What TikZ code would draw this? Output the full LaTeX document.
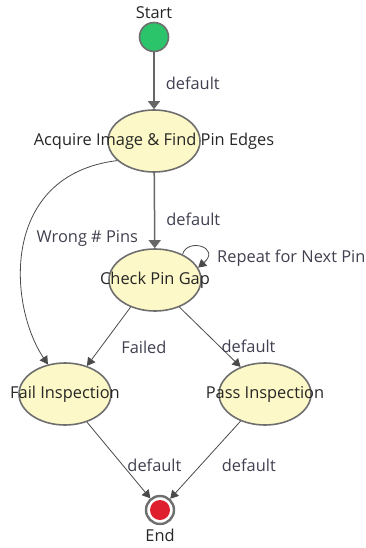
\documentclass[tikz,border=0pt]{standalone}
\usepackage{fontspec}
\setmainfont{Open Sans}
\usepackage{tikz}
\usetikzlibrary{arrows.meta,shapes.geometric}
\definecolor{sfill}{HTML}{FCF8C8}
\definecolor{sline}{HTML}{6E6E6E}
\definecolor{sgreen}{HTML}{2BC46A}
\definecolor{sred}{HTML}{DE1F2D}
\definecolor{tline}{HTML}{4A4A4A}
\definecolor{tlined}{HTML}{666666}
\definecolor{ltext}{HTML}{404050}
\newcommand{\statefont}{\fontsize{16.4}{19}\selectfont}
\tikzset{
  % yellow state bubble, text may run past the border
  state/.style      = {ellipse, draw=sline, fill=sfill, line width=1.6pt,
                       minimum width=92pt, minimum height=62pt, inner sep=0pt,
                       text=black!85, font=\statefont},
  startstate/.style = {circle, draw=sline, fill=sgreen, line width=1.6pt,
                       minimum size=29pt, inner sep=0pt},
  endstate/.style   = {circle, draw=sline, fill=white, line width=2.4pt,
                       minimum size=28pt, inner sep=0pt,
                       path picture={\fill[sred] (path picture bounding box.center) circle (10pt);}},
  trans/.style      = {-{Triangle[length=8pt,width=9pt]}, tline, line width=0.8pt},
  main trans/.style = {-{Triangle[length=8pt,width=12pt]}, tlined, line width=1.5pt},
  lbl/.style        = {font=\statefont, text=ltext, inner sep=1pt},
  title/.style      = {font=\statefont, text=black!85, inner sep=0.5pt},
}
\begin{document}
\begin{tikzpicture}[x=1pt,y=-1pt]
\useasboundingbox (0,0) rectangle (366,548);
\node[startstate, label={[title, label distance=2pt]above:Start}] (start) at (154,37) {};
\node[state] (acq) at (154,141) {\makebox[0pt]{Acquire Image \& Find Pin Edges}};
\node[state] (check) at (155,280) {\makebox[0pt]{Check Pin Gap}};
\node[state] (fail) at (65,394) {\makebox[0pt]{Fail Inspection}};
\node[state] (pass) at (265,394) {\makebox[0pt]{Pass Inspection}};
\node[endstate, label={[title, label distance=3pt]below:End}] (end) at (160,510) {};
% transitions
\draw[main trans] (start) -- node[lbl, pos=0.55, anchor=west, xshift=10pt] {default} (acq);
\draw[main trans] (acq) -- node[lbl, pos=0.62, anchor=west, xshift=10pt] {default} (check);
\draw[trans] (check.43) .. controls +(5,-17) and +(23,-20) ..
  node[lbl, anchor=west, xshift=15pt, yshift=-11pt] {Repeat for Next Pin} (check.16);
\draw[trans] (acq.-152) .. controls (0,175) and (8,305) ..
  node[lbl, pos=0.47, anchor=west, xshift=10pt] {Wrong \# Pins} (fail.120);
\draw[trans] (check.-132) -- node[lbl, pos=0.68, anchor=west, xshift=19pt] {Failed} (fail.52);
\draw[trans] (check.-48) -- node[lbl, pos=0.65, anchor=west, xshift=1pt] {default} (pass.132);
\draw[trans] (fail.-52) -- node[lbl, pos=0.57, anchor=west, xshift=3pt] {default} (end);
\draw[trans] (pass.-132) -- node[lbl, pos=0.57, anchor=west, xshift=20pt] {default} (end);
\end{tikzpicture}
\end{document}
